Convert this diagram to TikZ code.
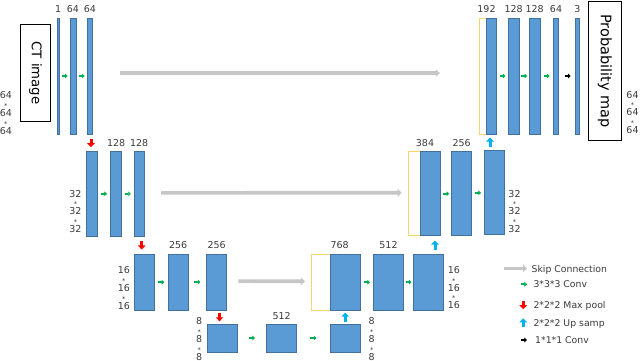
\documentclass[tikz,border=0pt]{standalone}
\usepackage{fontspec}
\setmainfont{DejaVu Sans}
\usetikzlibrary{arrows.meta,calc}
\definecolor{blkfill}{HTML}{5B9BD5}
\definecolor{blkdraw}{HTML}{41719C}
\definecolor{yel}{HTML}{F8D26A}
\definecolor{skipc}{HTML}{C6C6C6}
\definecolor{convc}{HTML}{00B050}
\definecolor{poolc}{HTML}{FF0000}
\definecolor{upc}{HTML}{00B0F0}
\definecolor{txt}{HTML}{3A3A3A}
\newcommand\astk{\smash{\raisebox{-0.8pt}{\fontsize{6.5}{6.5}\selectfont *}}}
\newcommand\blk[6][blk]{\node[#1, minimum width={(#4-#3)*1pt}, minimum height={(#6-#5)*1pt}] (#2) at ({(#3+#4)/2},{(#5+#6)/2}) {};}
\newcommand\convarr[2]{\draw[conv] ($(#1.east)!.5!(#2.west)$) ++(-3,0) -- ++(6,0);}
\newcommand\poolarr[2]{\draw[pool] ($(#1.south)!.5!(#2.north)$) ++(0,-4.3) -- ++(0,8.6);}
\newcommand\uparr[3][0]{\draw[up] ($(#2.north)!.5!(#3.south)+(#1,0)$) ++(0,4.5) -- ++(0,-9);}
\tikzset{
  blk/.style={draw=blkdraw, fill=blkfill, line width=0.7pt, inner sep=0pt, outer sep=0pt},
  yblk/.style={draw=yel, fill=white, line width=0.8pt, inner sep=0pt, outer sep=0pt},
  conv/.style={draw=convc, line width=2pt, -{Triangle[length=2.6pt,width=4.6pt]}},
  onebyone/.style={draw=black, line width=2pt, -{Triangle[length=2.6pt,width=4.6pt]}},
  pool/.style={draw=poolc, line width=3pt, -{Triangle[length=4pt,width=7.5pt]}},
  up/.style={draw=upc, line width=3pt, -{Triangle[length=4pt,width=7.5pt]}},
  skip/.style={draw=skipc, line width=3.6pt, -{Triangle[length=4pt,width=7.5pt]}},
  lab/.style={anchor=base, inner sep=0pt, font=\fontsize{9.5}{11}\selectfont, text=txt},
  dimstack/.style={align=center, inner sep=0pt, text=txt,
    font=\fontsize{9.5}{8.8}\selectfont},
  leg/.style={anchor=base west, inner sep=0pt, font=\fontsize{9.3}{11}\selectfont, text=txt},
  bigbox/.style={draw=black, line width=0.8pt, fill=white, inner sep=0pt},
}
\begin{document}
\begin{tikzpicture}[x=1pt, y=-1pt]
\useasboundingbox (0,0) rectangle (640,360);
% ---------- boxes ----------
\blk[bigbox]{ct}{20.7}{50.3}{24.3}{121.7}
\node[rotate=-90, font=\fontsize{13.3}{15}\selectfont, inner sep=0pt] (cttext) at (ct) {CT image};
\blk[bigbox]{pm}{588.3}{621.3}{1.7}{140}
\node[rotate=-90, font=\fontsize{14.5}{16}\selectfont, inner sep=0pt] (pmtext) at (pm) {Probability map};
% ---------- level 1 ----------
\blk{a1}{57}{59.5}{18}{134}
\blk{a2}{70}{76}{18}{134}
\blk{a3}{87.3}{92.7}{18}{134}
\blk[yblk]{r1y}{479.3}{487}{18}{134}
\blk{r1}{486.7}{496.7}{18}{134}
\blk{r2}{508.3}{519}{18}{134}
\blk{r3}{529.3}{540}{18}{134}
\blk{r4}{553.3}{558.7}{18}{134}
\blk{r5}{575.7}{579}{18}{134}
% ---------- level 2 ----------
\blk{b1}{86.7}{97.3}{151.7}{236}
\blk{b2}{110.7}{121.7}{151.7}{236}
\blk{b3}{134}{144.3}{151.7}{236}
\blk[yblk]{b4y}{408.3}{421}{151.7}{235.7}
\blk{b4}{420.7}{440.7}{151.7}{235.7}
\blk{b5}{451.7}{471.7}{151.7}{235.7}
\blk{b6}{484.3}{504.3}{150}{234}
% ---------- level 3 ----------
\blk{c1}{134}{154.3}{254.3}{310}
\blk{c2}{168.3}{188}{254.3}{310}
\blk{c3}{206.7}{226.7}{254.3}{310}
\blk[yblk]{c4y}{311}{330.6}{254.3}{310.3}
\blk{c4}{330.3}{360.7}{254.3}{310.3}
\blk{c5}{373.3}{403.7}{254.3}{310.3}
\blk{c6}{413.3}{443.3}{254.3}{310.3}
% ---------- level 4 ----------
\blk{d1}{207.3}{237.3}{324}{352}
\blk{d2}{266.7}{296.7}{324}{352}
\blk{d3}{330}{360}{324}{352}
% ---------- channel labels ----------
\node[lab] (la1) at ([yshift=5.5pt]a1.north) {1};
\node[lab] (la2) at ([yshift=5.5pt]a2.north) {64};
\node[lab] (la3) at ([yshift=5.5pt]a3.north) {64};
\node[lab] (lr1) at ([xshift=-0.5pt,yshift=5.5pt]r1y.north east) {192};
\node[lab] (lr2) at ([yshift=5.5pt]r2.north) {128};
\node[lab] (lr3) at ([yshift=5.5pt]r3.north) {128};
\node[lab] (lr4) at ([yshift=5.5pt]r4.north) {64};
\node[lab] (lr5) at ([yshift=5.5pt]r5.north) {3};
\node[lab] (lb2) at ([yshift=5.5pt]b2.north) {128};
\node[lab] (lb3) at ([yshift=5.5pt]b3.north) {128};
\node[lab] (lb4) at ([xshift=4pt,yshift=5.5pt]b4y.north east) {384};
\node[lab] (lb5) at ([yshift=5.5pt]b5.north) {256};
\node[lab] (lc2) at ([yshift=5.5pt]c2.north) {256};
\node[lab] (lc3) at ([yshift=5.5pt]c3.north) {256};
\node[lab] (lc4) at ([xshift=9pt,yshift=5.5pt]c4y.north east) {768};
\node[lab] (lc5) at ([yshift=5.5pt]c5.north) {512};
\node[lab] (ld2) at ([yshift=5pt]d2.north) {512};
% ---------- size stacks ----------
\node[dimstack] (s1l) at (5.8,113) {64\\\astk\\64\\\astk\\64};
\node[dimstack] (s1r) at (632.5,112.5) {64\\\astk\\64\\\astk\\64};
\node[dimstack] (s2l) at (75.5,211.5) {32\\\astk\\32\\\astk\\32};
\node[dimstack] (s2r) at (514.5,211.2) {32\\\astk\\32\\\astk\\32};
\node[dimstack] (s3l) at (123.8,288) {16\\\astk\\16\\\astk\\16};
\node[dimstack] (s3r) at (453.8,287.6) {16\\\astk\\16\\\astk\\16};
\node[dimstack] (s4l) at (199.2,339) {8\\\astk\\8\\\astk\\8};
\node[dimstack] (s4r) at (371.7,339) {8\\\astk\\8\\\astk\\8};
% ---------- skip connections ----------
\draw[skip, shorten <=27.3pt, shorten >=39.5pt] ([yshift=3pt]a3.east) -- ([yshift=3pt]r1y.west);
\draw[skip, shorten <=16.7pt, shorten >=6.6pt] ([yshift=1pt]b3.east) -- ([yshift=1pt]b4y.west);
\draw[skip, shorten <=11.6pt, shorten >=6pt] ([yshift=1pt]c3.east) -- ([yshift=1pt]c4y.west);
% ---------- convolutions ----------
\convarr{a1}{a2}
\convarr{a2}{a3}
\convarr{r1}{r2}
\convarr{r2}{r3}
\convarr{r3}{r4}
\draw[onebyone] ($(r4.east)!.5!(r5.west)$) ++(-2.5,0) -- ++(6,0);
\convarr{b1}{b2}
\convarr{b2}{b3}
\convarr{b4}{b5}
\convarr{b5}{b6}
\convarr{c1}{c2}
\convarr{c2}{c3}
\convarr{c4}{c5}
\convarr{c5}{c6}
\convarr{d1}{d2}
\convarr{d2}{d3}
% ---------- pooling / upsampling ----------
\poolarr{a3}{b1}
\poolarr{b3}{c1}
\poolarr{c3}{d1}
\uparr{d3}{c4}
\uparr[5.5]{c6}{b4}
\uparr[-3]{b6}{r1}
% ---------- legend ----------
\coordinate (k1) at (504,268.3);
\draw[skip] (k1) -- ++(23,0);
\node[leg] (lg1) at (531.5,272.3) {Skip Connection};
\coordinate (k2) at (521,284.3);
\draw[conv] (k2) -- ++(6,0);
\node[leg] (lg2) at (533.3,287.5) {3*3*3 Conv};
\coordinate (k3) at (523.3,300.5);
\draw[pool] (k3) -- ++(0,8.7);
\node[leg] (lg3) at (533.3,308.5) {2*2*2 Max pool};
\coordinate (k4) at (523.3,327);
\draw[up] (k4) -- ++(0,-8.7);
\node[leg] (lg4) at (533.3,326.5) {2*2*2 Up samp};
\coordinate (k5) at (521,340);
\draw[onebyone] (k5) -- ++(6,0);
\node[leg] (lg5) at (535,343.5) {1*1*1 Conv};
\end{tikzpicture}
\end{document}
